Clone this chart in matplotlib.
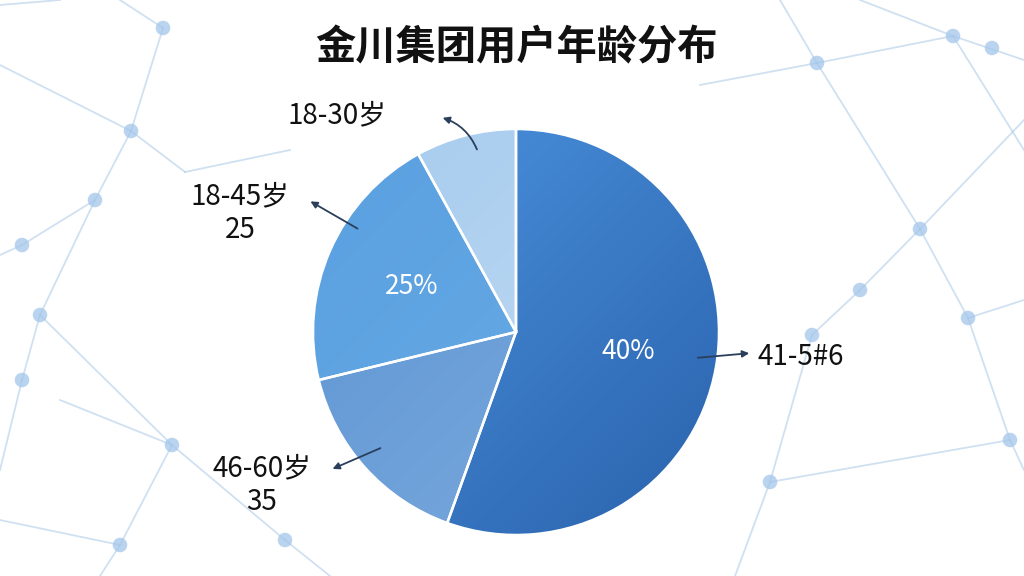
import matplotlib.pyplot as plt
import numpy as np
from matplotlib.colors import LinearSegmentedColormap

plt.rcParams['font.family'] = ['Noto Sans CJK SC', 'DejaVu Sans']

groups = ['41-55岁', '46-60岁', '18-45岁', '18-30岁']
shares = [55.5, 15.7, 20.8, 8.0]
inner_labels = ['40%', '', '25%', '']
outer_labels = ['41-5#6', '46-60岁\n35', '18-45岁\n25', '18-30岁']
title = '金川集团用户年龄分布'

# gradient pairs per slice (light -> dark)
grads = [('#4d95e0', '#2a62ad'), ('#5c93d2', '#7eaddf'),
         ('#5a9fe0', '#6aaee6'), ('#a6cbee', '#c3ddf4')]

# background network (decoration only, image pixel coords)
nodes = [(163, 28), (131, 131), (95, 200), (22, 245), (40, 315), (22, 380),
         (172, 445), (120, 545), (285, 540), (817, 63), (953, 36), (992, 48),
         (920, 229), (860, 290), (812, 335), (968, 318), (770, 482), (1010, 440)]
edges = [((120, 0), (163, 28)), ((0, 65), (131, 131)), ((163, 28), (131, 131)),
         ((131, 131), (95, 200)), ((95, 200), (22, 245)), ((22, 245), (0, 255)),
         ((131, 131), (185, 172)), ((185, 172), (290, 150)), ((95, 200), (40, 315)),
         ((40, 315), (22, 380)), ((40, 315), (172, 445)), ((22, 380), (0, 470)),
         ((172, 445), (120, 545)), ((172, 445), (285, 540)), ((120, 545), (100, 576)),
         ((285, 540), (330, 576)), ((0, 520), (120, 545)), ((60, 400), (172, 445)),
         ((780, 0), (817, 63)), ((700, 85), (817, 63)), ((817, 63), (953, 36)),
         ((817, 63), (920, 229)), ((953, 36), (1024, 60)), ((953, 36), (1024, 150)),
         ((920, 229), (1024, 120)), ((920, 229), (860, 290)), ((860, 290), (812, 335)),
         ((920, 229), (968, 318)), ((968, 318), (1024, 300)), ((812, 335), (770, 482)),
         ((770, 482), (735, 576)), ((770, 482), (1010, 440)), ((968, 318), (1010, 440)),
         ((1010, 440), (1024, 470)), ((860, 0), (953, 36)), ((0, 5), (60, 0))]

H = 576


def up(p):
    return (p[0], H - p[1])


fig = plt.figure(figsize=(10.24, 5.76), dpi=100)
ax = fig.add_axes([0, 0, 1, 1])
ax.set_facecolor('white')

for a, b in edges:
    a, b = up(a), up(b)
    ax.plot([a[0], b[0]], [a[1], b[1]], color='#a9c8e6', lw=1.3, alpha=0.55, zorder=0)
for n in nodes:
    n = up(n)
    ax.scatter(n[0], n[1], s=110, color='#a3c6ea', alpha=0.75, edgecolors='none', zorder=1)

cx, cy, r = 516, H - 332, 203
wedges, _ = ax.pie(shares, startangle=90, counterclock=False, center=(cx, cy),
                   radius=r, colors=[g[1] for g in grads],
                   wedgeprops=dict(edgecolor='white', linewidth=1.8))

# soft gradient inside each wedge, light at top-left
yy, xx = np.mgrid[0:1:200j, 0:1:200j]
ramp = (xx + yy) / 2.0
for w, (c1, c2) in zip(wedges, grads):
    cmap = LinearSegmentedColormap.from_list('g', [c1, c2])
    im = ax.imshow(ramp, cmap=cmap, extent=(cx - r, cx + r, cy - r, cy + r),
                   origin='upper', zorder=2, interpolation='bilinear')
    im.set_clip_path(w)
    w.set_facecolor('none')
    w.set_zorder(3)

# percentage labels inside slices
ang = 90.0
for w, txt, s in zip(wedges, inner_labels, shares):
    theta = np.deg2rad(ang - s / 100 * 360 / 2)
    ang -= s / 100 * 360
    if txt:
        rr = 0.56 * r
        ax.text(cx + rr * np.cos(theta), cy + rr * np.sin(theta), txt,
                color='white', fontsize=19, ha='center', va='center', zorder=5)

# outside labels with arrows (tail on slice -> head at label)
label_pos = [(758, 357, 'left'), (262, 485, 'center'), (240, 213, 'center'), (288, 115, 'left')]
arrows = [((695, 358), (752, 353), 0.0), ((383, 447), (330, 470), 0.0),
          ((360, 230), (308, 200), 0.0), ((478, 152), (440, 117), 0.25)]
for txt, (lx, ly, ha), (tail, head, rad) in zip(outer_labels, label_pos, arrows):
    ax.text(lx, H - ly, txt, fontsize=20, ha=ha, va='center', color='#111111',
            linespacing=1.15, zorder=5)
    ax.annotate('', xy=up(head), xytext=up(tail),
                arrowprops=dict(arrowstyle='-|>', color='#2b3f5c', lw=1.3,
                                mutation_scale=10,
                                connectionstyle=f'arc3,rad={rad}'), zorder=5)

ax.text(516, H - 48, title, fontsize=29, fontweight='bold', ha='center',
        va='center', color='#111111', zorder=5)

ax.set_xlim(0, 1024)
ax.set_ylim(0, H)
ax.set_aspect('auto')
ax.axis('off')

fig.savefig('out.png', dpi=100)
